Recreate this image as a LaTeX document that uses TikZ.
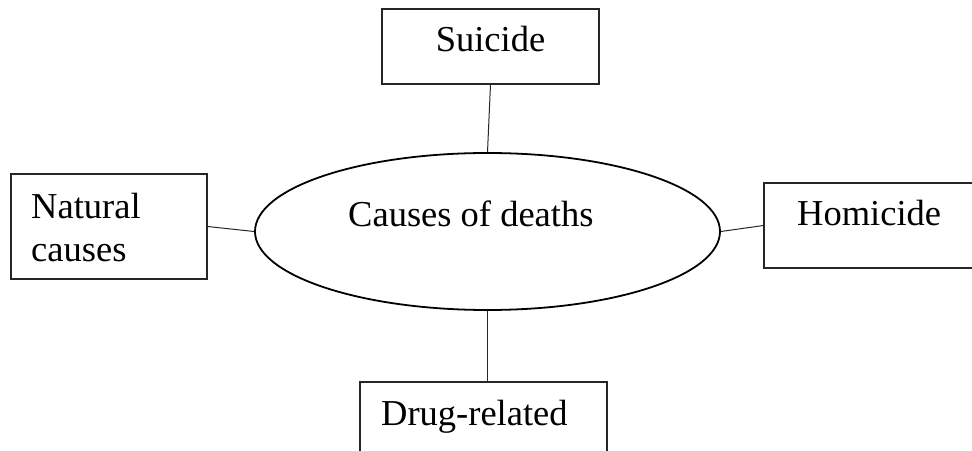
\documentclass[tikz,border=0pt]{standalone}
\usepackage{fontspec}
\setmainfont{Liberation Serif}
\usetikzlibrary{shapes.geometric}
\begin{document}
\begin{tikzpicture}[x=1pt,y=1pt,
  causebox/.style={draw=black!85,line width=1.1pt,rectangle,inner sep=0pt},
  hub/.style={draw=black,line width=1.8pt,ellipse,inner sep=0pt,
    minimum width=465pt,minimum height=157pt},
  label/.style={inner sep=0pt,font=\fontsize{36.5}{43}\selectfont},
  link/.style={draw=black!85,line width=1pt}]
\useasboundingbox (0,0) rectangle (972,450);

% central ellipse
\node[hub] (hub) at (487.5,218.5) {};
\node[label,anchor=base west] (hubtext) at (348,223) {Causes of deaths};

% surrounding boxes (the right and bottom ones run past the page edge)
\node[causebox,minimum width=217pt,minimum height=75pt] (suicide) at (490.5,403.5) {};
\node[label,anchor=base] (suicidetext) at (490.5,398) {Suicide};

\node[causebox,minimum width=196pt,minimum height=105pt] (natural) at (109,223.5) {};
\node[label,anchor=base west] (naturaltext) at (31,231) {Natural};
\node[label,anchor=base west] (naturaltext2) at (31,188) {causes};

\node[causebox,minimum width=260pt,minimum height=85pt] (homicide) at (894,224.5) {};
\node[label,anchor=base west] (homicidetext) at (797,224) {Homicide};

\node[causebox,minimum width=247pt,minimum height=110pt] (drug) at (483.5,13) {};
\node[label,anchor=base west] (drugtext) at (381,24) {Drug-related};

% connectors
\draw[link] (suicide.south) -- (hub.north);
\draw[link] (natural.east) -- (hub.west);
\draw[link] (hub.east) -- (homicide.west);
\draw[link] (hub.south) -- (hub.south |- drug.north);
\end{tikzpicture}
\end{document}
